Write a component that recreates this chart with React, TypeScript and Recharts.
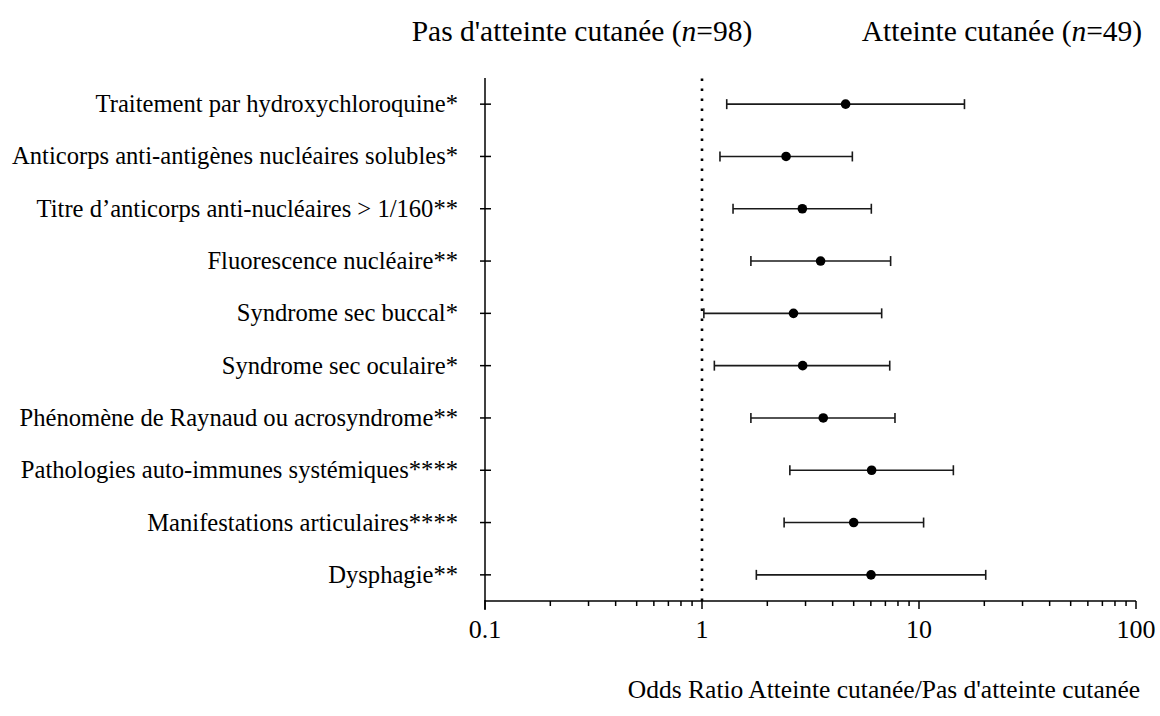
import React from 'react';
import { ScatterChart, Scatter, XAxis, YAxis, ErrorBar, ReferenceLine } from 'recharts';

const categories = [
  'Traitement par hydroxychloroquine*',
  'Anticorps anti-antigènes nucléaires solubles*',
  'Titre d\u2019anticorps anti-nucléaires > 1/160**',
  'Fluorescence nucléaire**',
  'Syndrome sec buccal*',
  'Syndrome sec oculaire*',
  'Phénomène de Raynaud ou acrosyndrome**',
  'Pathologies auto-immunes systémiques****',
  'Manifestations articulaires****',
  'Dysphagie**',
];
const oddsRatio = [4.59, 2.44, 2.9, 3.52, 2.64, 2.91, 3.62, 6.05, 5.0, 6.01];
const ciLower = [1.3, 1.21, 1.39, 1.68, 1.02, 1.14, 1.68, 2.54, 2.39, 1.78];
const ciUpper = [16.2, 4.93, 6.03, 7.4, 6.73, 7.33, 7.75, 14.4, 10.5, 20.3];
const xTicks = [0.1, 0.2, 0.3, 0.4, 0.5, 0.6, 0.7, 0.8, 0.9, 1, 2, 3, 4, 5, 6, 7, 8, 9, 10, 20, 30, 40, 50, 60, 70, 80, 90, 100];
const majorTicks = [0.1, 1, 10, 100];
const headerLeft = 'Pas d\'atteinte cutanée (';
const headerRight = 'Atteinte cutanée (';
const nLeft = '98';
const nRight = '49';
const xTitle = 'Odds Ratio Atteinte cutanée/Pas d\'atteinte cutanée';

const data = categories.map((name, i) => ({
  name,
  idx: i,
  or: oddsRatio[i],
  err: [oddsRatio[i] - ciLower[i], ciUpper[i] - oddsRatio[i]],
}));

const FONT = '"Liberation Serif", "Times New Roman", serif';

const XTick = (props: any) => {
  const { x, y, payload } = props;
  const v = payload.value;
  const major = majorTicks.some((m) => Math.abs(m - v) < 1e-9);
  return (
    <g>
      <line x1={x} x2={x} y1={y} y2={y + (major ? 8 : 5)} stroke="#000" strokeWidth={1.5} />
      {major && (
        <text x={x} y={y + 37} textAnchor="middle" fontFamily={FONT} fontSize={26} fill="#000">
          {String(v)}
        </text>
      )}
    </g>
  );
};

const YTick = (props: any) => {
  const { x, y, payload } = props;
  const label = categories[payload.value];
  return (
    <g>
      <line x1={x - 5} x2={x + 6} y1={y} y2={y} stroke="#000" strokeWidth={1.5} />
      <text x={x - 27} y={y + 8} textAnchor="end" fontFamily={FONT} fontSize={24.6} fill="#000">
        {label}
      </text>
    </g>
  );
};

const Dot = (props: any) => <circle cx={props.cx} cy={props.cy} r={4.8} fill="#000" />;

export default function App() {
  return (
    <div style={{ position: 'absolute', left: 0, top: 0, width: 1160, height: 716, background: '#fff' }}>
      <ScatterChart width={1160} height={716} margin={{ top: 78, right: 24, bottom: 55, left: 0 }}>
        <XAxis
          type="number"
          dataKey="or"
          scale="log"
          domain={[0.1, 100]}
          ticks={xTicks}
          interval={0}
          allowDataOverflow
          height={60}
          tickSize={0}
          tickMargin={0}
          tickLine={false}
          tick={<XTick />}
          axisLine={{ stroke: '#000', strokeWidth: 1.5 }}
        />
        <YAxis
          type="number"
          dataKey="idx"
          domain={[-0.5, 9.5]}
          reversed
          ticks={[0, 1, 2, 3, 4, 5, 6, 7, 8, 9]}
          interval={0}
          width={485}
          tickSize={0}
          tickMargin={0}
          tickLine={false}
          tick={<YTick />}
          axisLine={{ stroke: '#000', strokeWidth: 1.5 }}
        />
        <ReferenceLine x={1} stroke="#000" strokeWidth={2.6} strokeDasharray="2.6 7.4" ifOverflow="extendDomain" />
        <Scatter data={data} isAnimationActive={false} shape={<Dot />}>
          <ErrorBar dataKey="err" direction="x" width={5} stroke="#1a1a1a" strokeWidth={1.6} isAnimationActive={false} />
        </Scatter>
      </ScatterChart>
      <svg width={1160} height={716} style={{ position: 'absolute', left: 0, top: 0, pointerEvents: 'none' }}>
        <line x1={485} x2={485} y1={600} y2={610} stroke="#000" strokeWidth={1.5} />
        <text x={582} y={41} textAnchor="middle" fontFamily={FONT} fontSize={29.5} fill="#000">
          {headerLeft}
          <tspan fontStyle="italic">n</tspan>={nLeft})
        </text>
        <text x={1002} y={41} textAnchor="middle" fontFamily={FONT} fontSize={29.5} fill="#000">
          {headerRight}
          <tspan fontStyle="italic">n</tspan>={nRight})
        </text>
        <text x={884} y={698} textAnchor="middle" fontFamily={FONT} fontSize={25.5} fill="#000">
          {xTitle}
        </text>
      </svg>
    </div>
  );
}
